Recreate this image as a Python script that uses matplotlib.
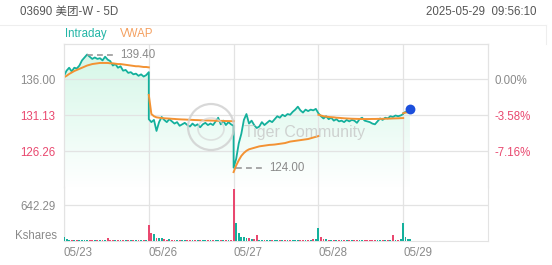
import numpy as np
import matplotlib
matplotlib.use("Agg")
import matplotlib.pyplot as plt
from matplotlib.colors import LinearSegmentedColormap
from matplotlib.patches import Ellipse

plt.rcParams['font.family'] = ['Liberation Sans', 'Noto Sans CJK SC', 'DejaVu Sans']

prev_close = 136.00
day_labels = ["05/23", "05/26", "05/27", "05/28", "05/29"]

price_d1 = [136.5, 137.2, 137.6, 137.1, 137.6, 137.5, 137.9, 138.6, 139.0, 139.4,
            139.1, 138.8, 139.0, 138.8, 138.9, 138.6, 139.1, 138.7, 138.5, 137.9,
            138.1, 137.6, 137.8, 137.2, 137.3, 136.9, 137.0, 136.7, 136.8, 136.5,
            136.7, 136.4, 136.6, 137.0]
price_d2 = [130.6, 130.2, 130.5, 129.0, 130.2, 130.9, 130.5, 130.2, 130.6, 130.3,
            130.0, 130.2, 129.7, 129.9, 130.1, 129.8, 129.6, 130.0, 129.7, 129.9,
            129.5, 129.9, 130.1, 129.8, 130.0, 129.8, 130.3, 130.8, 129.9, 130.4,
            129.8, 130.2, 129.9, 129.7]
price_d3 = [124.0, 125.2, 127.3, 128.6, 130.5, 131.3, 130.0, 130.4, 129.8, 129.4,
            129.6, 130.2, 129.8, 130.1, 130.4, 130.2, 130.6, 131.0, 130.8, 131.2,
            131.0, 131.3, 131.2, 131.6, 131.9, 132.3, 131.8, 131.5, 131.9, 131.7,
            131.9, 131.8, 132.0, 131.4]
price_d4 = [131.4, 131.0, 130.7, 131.0, 130.6, 130.8, 130.4, 130.6, 130.3, 130.4,
            130.2, 130.5, 130.3, 130.5, 130.4, 130.1, 130.6, 130.8, 130.4, 130.3,
            130.2, 130.0, 129.9, 130.3, 130.7, 130.5, 130.8, 130.7, 131.0, 130.9,
            131.1, 131.0, 131.1, 131.3]
price_d5 = [131.4, 131.6, 131.7, 131.97]
d5_minutes = [0, 9, 18, 26]   # 09:30 -> 09:56 of a 330 minute session

vwap_d1 = [136.3, 136.5, 136.75, 136.95, 137.15, 137.3, 137.45, 137.6, 137.75, 137.9,
           138.0, 138.1, 138.15, 138.2, 138.25, 138.25, 138.25, 138.25, 138.2, 138.2,
           138.15, 138.1, 138.1, 138.05, 138.0, 137.95, 137.9, 137.85, 137.8, 137.8,
           137.75, 137.7, 137.7, 137.65]
vwap_d2 = [133.9, 131.3, 131.0, 130.85, 130.8, 130.75, 130.72, 130.7, 130.68, 130.65,
           130.63, 130.6, 130.58, 130.56, 130.55, 130.53, 130.52, 130.5, 130.48, 130.47,
           130.45, 130.44, 130.43, 130.42, 130.41, 130.4, 130.39, 130.38, 130.37, 130.36,
           130.35, 130.34, 130.33, 130.32]
vwap_d3 = [123.4, 124.3, 125.0, 125.6, 126.0, 126.3, 126.5, 126.6, 126.7, 126.8,
           126.9, 126.95, 127.0, 127.05, 127.1, 127.12, 127.15, 127.2, 127.25, 127.3,
           127.35, 127.45, 127.55, 127.6, 127.65, 127.7, 127.75, 127.8, 127.85, 127.9,
           128.0, 128.1, 128.2, 128.3]
vwap_d4 = [131.2, 131.1, 131.0, 130.95, 130.9, 130.87, 130.85, 130.8, 130.78, 130.75,
           130.72, 130.7, 130.68, 130.66, 130.65, 130.64, 130.63, 130.62, 130.62, 130.62,
           130.62, 130.63, 130.63, 130.64, 130.64, 130.65, 130.66, 130.67, 130.68, 130.7,
           130.71, 130.72, 130.74, 130.75]
vwap_d5 = [131.4, 131.5, 131.55, 131.6]

vol_d1 = [75, 30, 22, 18, 25, 15, 20, 12, 18, 22, 15, 10, 14, 18, 12, 15, 12, 60,
          10, 14, 18, 12, 15, 10, 12, 16, 14, 10, 12, 15, 18, 14, 20, 35]
vol_d2 = [285, 140, 125, 60, 45, 50, 30, 25, 35, 20, 18, 25, 15, 20, 18, 14, 22, 15,
          12, 18, 14, 16, 20, 12, 15, 18, 14, 16, 12, 20, 25, 15, 20, 30]
vol_d3 = [922, 315, 140, 80, 75, 60, 45, 35, 30, 107, 25, 20, 18, 22, 15, 20, 18, 14,
          16, 20, 15, 18, 22, 14, 16, 18, 20, 15, 12, 18, 25, 30, 40, 60]
vol_d4 = [226, 77, 40, 30, 25, 20, 18, 22, 15, 20, 18, 14, 16, 20, 15, 18, 12, 14,
          20, 15, 16, 18, 12, 14, 20, 15, 18, 16, 14, 107, 20, 25, 30, 45]
vol_d5 = [326, 77, 40, 30]

# ---- assemble time axis (x in trading days) ----
full_days = [price_d1, price_d2, price_d3, price_d4]
xs, ps, vs = [], [], []
vwap_segs = []
for d, (p, w, v) in enumerate(zip(full_days, [vwap_d1, vwap_d2, vwap_d3, vwap_d4],
                                   [vol_d1, vol_d2, vol_d3, vol_d4])):
    x = d + np.arange(len(p)) / (len(p) - 1)
    xs.append(x); ps.append(p); vs.append(v)
    vwap_segs.append((x, w))
x5 = 4 + np.array(d5_minutes) / 330
xs.append(x5); ps.append(price_d5); vs.append(vol_d5)
vwap_segs.append((x5, vwap_d5))

x_all = np.concatenate(xs)
p_all = np.concatenate(ps)
v_all = np.concatenate(vs)

TEAL = '#14b09c'
ORANGE = '#f39233'
RED = '#e9486f'
GRAY = '#8a8a8a'
GRID = '#e3e3e3'

W, H = 552, 265
fig = plt.figure(figsize=(W / 100, H / 100), dpi=100)
fig.patch.set_facecolor('white')

def fx(px):
    return px / W

def fy(py):
    return 1 - py / H

L, R = 64, 488
ax = fig.add_axes([fx(L), fy(187), fx(R - L), fy(44) - fy(187)])
axv = fig.add_axes([fx(L), fy(241), fx(R - L), fy(187) - fy(241)])

ybot, ytop = 121.37, 140.83
ax.set_xlim(0, 5)
ax.set_ylim(ybot, ytop)

# gradient fill under the price line
poly = ax.fill_between(x_all, p_all, ybot, color='none', lw=0)
cmap = LinearSegmentedColormap.from_list('mint', ['#ffffff', '#e9fbf3', '#d6f7e8'])
grad = np.linspace(0, 1, 256).reshape(-1, 1)
im = ax.imshow(grad, extent=[0, 5, ybot, 139.5], origin='lower', aspect='auto',
               cmap=cmap, zorder=1)
im.set_clip_path(poly.get_paths()[0], transform=ax.transData)

ax.plot(x_all, p_all, color=TEAL, lw=1.3, zorder=3)
for x, w in vwap_segs:
    ax.plot(x, w, color=ORANGE, lw=1.4, zorder=4)
ax.scatter([x_all[-1]], [p_all[-1]], s=50, color='#1c4fdc', zorder=6, lw=0)

# high / low markers
hi = np.argmax(p_all)
lo = np.argmin(p_all)
ax.plot([x_all[hi], x_all[hi] + 0.31], [p_all[hi]] * 2, color='#9a9a9a', lw=1.2,
        dashes=(3.5, 2.5), zorder=5)
ax.text(x_all[hi] + 0.39, p_all[hi], f"{p_all[hi]:.2f}", color=GRAY, fontsize=8.3,
        va='center', ha='left', zorder=5)
ax.plot([x_all[lo] + 0.03, x_all[lo] + 0.34], [p_all[lo]] * 2, color='#9a9a9a', lw=1.2,
        dashes=(3.5, 2.5), zorder=5)
ax.text(x_all[lo] + 0.42, p_all[lo], f"{p_all[lo]:.2f}", color=GRAY, fontsize=8.3,
        va='center', ha='left', zorder=5)

# price grid and labels
levels = [prev_close * (1 - 0.0716), prev_close * (1 - 0.0358), prev_close]
ax.set_yticks(levels)
ax.set_yticklabels([f"{v:.2f}" for v in levels], fontsize=8.3)
for lab, v in zip(ax.get_yticklabels(), levels):
    lab.set_color(GRAY if v >= prev_close else RED)
ax.tick_params(axis='y', length=0, pad=6)
ax.set_xticks([1, 2, 3, 4])
ax.tick_params(axis='x', length=0, labelbottom=False)
ax.grid(True, color=GRID, lw=0.9)
ax2 = ax.twinx()
ax2.set_ylim(ybot, ytop)
ax2.set_yticks(levels)
pct = [(v / prev_close - 1) * 100 for v in levels]
ax2.set_yticklabels([f"{p:.2f}%" for p in pct], fontsize=8.3)
for lab, p in zip(ax2.get_yticklabels(), pct):
    lab.set_color(GRAY if p >= 0 else RED)
ax2.tick_params(axis='y', length=0, pad=5)
for a in (ax, ax2):
    for s in a.spines.values():
        s.set_color(GRID)
    a.spines['bottom'].set_visible(False)

# volume
vcol = [TEAL]
for i in range(1, len(p_all)):
    vcol.append(RED if p_all[i] < p_all[i - 1] else TEAL)
axv.bar(x_all, v_all, width=0.022, color=vcol, lw=0, zorder=3)
axv.set_xlim(0, 5)
axv.set_ylim(0, 642.29 * 1.5)
axv.set_yticks([642.29])
axv.set_yticklabels(["642.29"], fontsize=8.3, color=GRAY)
axv.tick_params(axis='y', length=0, pad=6)
axv.set_xticks(range(5))
axv.set_xticklabels(day_labels, fontsize=8.3, color=GRAY, ha='left')
axv.tick_params(axis='x', length=0, pad=4)
axv.grid(True, color=GRID, lw=0.9)
axv.set_axisbelow(True)
for s in axv.spines.values():
    s.set_color(GRID)
axv.spines['top'].set_visible(False)
fig.text(fx(57), fy(236), "Kshares", fontsize=8.3, color=GRAY, ha='right', va='center')

# header
fig.text(fx(20), fy(12), "03690 美团-W - 5D", fontsize=8.3, color='#555555', va='center')
fig.text(fx(536), fy(12), "2025-05-29  09:56:10", fontsize=8.3, color='#555555',
         va='center', ha='right')
fig.text(fx(65), fy(34), "Intraday", fontsize=8.3, color='#22b5a6', va='center')
fig.text(fx(120), fy(34), "VWAP", fontsize=8.3, color='#f4a060', va='center')
fig.add_artist(plt.Line2D([0, fx(546)], [fy(25), fy(25)], color='#eeeeee', lw=0.8))
fig.add_artist(plt.Line2D([fx(546), fx(546)], [fy(25), fy(44)], color='#eeeeee', lw=0.8))

# watermark
circ = Ellipse((fx(211), fy(127)), 46 / W, 46 / H, transform=fig.transFigure, fill=False,
               edgecolor='#cfcfcf', lw=1.6, alpha=0.8, zorder=10)
fig.patches.append(circ)
inner = Ellipse((fx(211), fy(129)), 26 / W, 22 / H, transform=fig.transFigure, fill=False,
                edgecolor='#d6d6d6', lw=1.2, alpha=0.7, zorder=10)
fig.patches.append(inner)
fig.text(fx(244), fy(133), "Tiger Community", fontsize=11.5, color='#c4c4c4',
         alpha=0.75, va='center', zorder=10)

fig.savefig("out.png", dpi=100)
